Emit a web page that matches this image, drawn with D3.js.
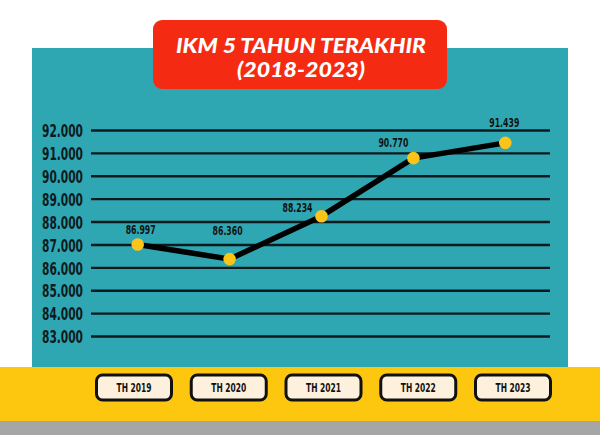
<!DOCTYPE html>
<html>
<head>
<meta charset="utf-8">
<script src="https://cdn.jsdelivr.net/npm/d3@7"></script>
<style>
  body { margin: 0; background: #fff; }
  svg { display: block; }
</style>
</head>
<body>
<div id="chart"></div>
<script>
// Data
const years = ["TH 2019", "TH 2020", "TH 2021", "TH 2022", "TH 2023"];
const ikm = [86.997, 86.360, 88.234, 90.770, 91.439];
const yTicks = [83, 84, 85, 86, 87, 88, 89, 90, 91, 92];
const titleLines = ["IKM 5 TAHUN TERAKHIR", "(2018-2023)"];
// label nudges (dx, dy) relative to each point
const labelOffsets = [[3, -11], [-2, -24], [-24, -4], [-20, -11], [-1, -16]];

const width = 600;
const height = 435;
const narrow = "'DejaVu Sans Condensed', 'Liberation Sans Narrow', sans-serif";

const svg = d3.select("#chart").append("svg").attr("width", width).attr("height", height);

// Background panels
svg.append("rect").attr("x", 32).attr("y", 48).attr("width", 536).attr("height", 320).attr("fill", "#2ea7b3");
svg.append("rect").attr("x", 0).attr("y", 367).attr("width", width).attr("height", 54).attr("fill", "#fdc70f");
svg.append("rect").attr("x", 0).attr("y", 421).attr("width", width).attr("height", 14).attr("fill", "#a6a6a6");

// Title box
svg.append("rect").attr("x", 153).attr("y", 20).attr("width", 294).attr("height", 69).attr("rx", 9)
  .attr("fill", "#f42b12");
svg.append("g").selectAll("text").data(titleLines).join("text")
  .attr("x", 301)
  .attr("y", (d, i) => 53 + i * 24)
  .attr("text-anchor", "middle")
  .attr("fill", "#fff")
  .attr("font-family", "Lato, 'Open Sans', sans-serif")
  .attr("font-style", "italic")
  .attr("font-weight", 900)
  .attr("font-size", 20)
  .attr("textLength", (d, i) => i === 0 ? 250 : 128)
  .attr("lengthAdjust", "spacingAndGlyphs")
  .text(d => d);

// Scales
const x = d3.scalePoint().domain(years).range([137.7, 505.3]);
const xButton = d3.scalePoint().domain(years).range([134, 513]);
const y = d3.scaleLinear().domain([83, 92]).range([336, 130]);

// Grid + y labels
const yAxis = svg.append("g").attr("transform", "translate(91,0)")
  .call(d3.axisLeft(y).tickValues(yTicks).tickSize(-(550 - 91)).tickPadding(8).tickFormat(d3.format(".3f")));
yAxis.select(".domain").remove();
yAxis.selectAll(".tick line").attr("stroke", "#0e1a1d").attr("stroke-width", 2.4);
yAxis.selectAll(".tick text")
  .attr("fill", "#0e1a1d")
  .attr("font-family", narrow)
  .attr("font-weight", "bold")
  .attr("font-size", 18.5)
  .attr("dy", "0.36em")
  .attr("textLength", 41)
  .attr("lengthAdjust", "spacingAndGlyphs");

// Line
const line = d3.line().x((d, i) => x(years[i])).y(d => y(d));
svg.append("path").datum(ikm).attr("d", line)
  .attr("fill", "none").attr("stroke", "#000").attr("stroke-width", 5.5)
  .attr("stroke-linejoin", "round");

// Points
svg.append("g").selectAll("circle").data(ikm).join("circle")
  .attr("cx", (d, i) => x(years[i]))
  .attr("cy", d => y(d))
  .attr("r", 6.3)
  .attr("fill", "#fcc418");

// Value labels
svg.append("g").selectAll("text").data(ikm).join("text")
  .attr("x", (d, i) => x(years[i]) + labelOffsets[i][0])
  .attr("y", (d, i) => y(d) + labelOffsets[i][1])
  .attr("text-anchor", "middle")
  .attr("fill", "#111")
  .attr("font-family", narrow)
  .attr("font-weight", "bold")
  .attr("font-size", 12.5)
  .attr("textLength", 30)
  .attr("lengthAdjust", "spacingAndGlyphs")
  .text(d => d3.format(".3f")(d));

// Year buttons
const buttons = svg.append("g").selectAll("g").data(years).join("g")
  .attr("transform", d => `translate(${xButton(d)},387.5)`);
buttons.append("rect")
  .attr("x", -37.5).attr("y", -12.5).attr("width", 75).attr("height", 25).attr("rx", 6)
  .attr("fill", "#fdf0dc").attr("stroke", "#111").attr("stroke-width", 3);
buttons.append("text")
  .attr("y", 4.5)
  .attr("text-anchor", "middle")
  .attr("fill", "#111")
  .attr("font-family", narrow)
  .attr("font-weight", "bold")
  .attr("font-size", 12.5)
  .attr("textLength", 35)
  .attr("lengthAdjust", "spacingAndGlyphs")
  .text(d => d);
</script>
</body>
</html>
